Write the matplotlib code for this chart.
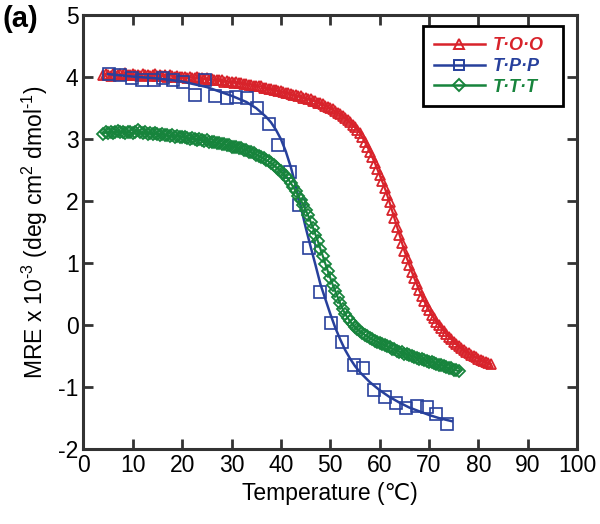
import matplotlib
matplotlib.use('Agg')
import matplotlib.pyplot as plt
import numpy as np

plt.rcParams['font.family'] = ['Liberation Sans', 'DejaVu Sans']
plt.rcParams['mathtext.fontset'] = 'custom'
plt.rcParams['mathtext.rm'] = 'Liberation Sans'
plt.rcParams['axes.unicode_minus'] = False

# T.O.O melting curve (read every 0.5 C)
too_temp = np.arange(4.0, 83.0, 0.5)
too_mre = [
    4.03, 4.05, 4.04, 4.02, 4.05, 4.04, 4.03, 4.05, 4.04, 4.06, 4.03, 4.04,
    4.05, 4.03, 4.04, 4.02, 4.05, 4.03, 4.04, 4.02, 4.03, 4.05, 4.02, 4.03,
    4.02, 4.04, 4.01, 4.03, 4.02, 4.00, 4.02, 4.01, 4.00, 4.01, 3.99, 4.01,
    3.99, 3.98, 4.00, 3.98, 3.98, 3.97, 3.98, 3.96, 3.97, 3.95, 3.96, 3.95,
    3.95, 3.93, 3.94, 3.92, 3.93, 3.91, 3.92, 3.90, 3.91, 3.89, 3.89, 3.88,
    3.88, 3.86, 3.86, 3.85, 3.85, 3.83, 3.82, 3.81, 3.81, 3.79, 3.79, 3.77,
    3.77, 3.76, 3.75, 3.74, 3.73, 3.71, 3.71, 3.69, 3.69, 3.67, 3.66, 3.65,
    3.64, 3.62, 3.61, 3.59, 3.58, 3.56, 3.54, 3.52, 3.50, 3.48, 3.45, 3.43,
    3.40, 3.37, 3.34, 3.31, 3.27, 3.23, 3.19, 3.15, 3.10, 3.03, 2.96, 2.88,
    2.80, 2.71, 2.62, 2.52, 2.42, 2.32, 2.22, 2.10, 1.98, 1.85, 1.72, 1.59,
    1.46, 1.33, 1.20, 1.08, 0.97, 0.86, 0.76, 0.66, 0.56, 0.47, 0.39, 0.31,
    0.24, 0.17, 0.11, 0.05, 0.00, -0.05, -0.10, -0.15, -0.19, -0.23, -0.27, -0.31,
    -0.34, -0.37, -0.40, -0.43, -0.45, -0.48, -0.50, -0.52, -0.54, -0.56, -0.58, -0.60,
    -0.61, -0.63,
]

# T.T.T melting curve (read every 0.5 C)
ttt_temp = np.arange(4.0, 76.5, 0.5)
ttt_mre = [
    3.09, 3.11, 3.10, 3.12, 3.10, 3.11, 3.13, 3.11, 3.12, 3.10, 3.12, 3.11,
    3.10, 3.12, 3.14, 3.11, 3.10, 3.11, 3.09, 3.10, 3.08, 3.10, 3.08, 3.07,
    3.08, 3.06, 3.07, 3.05, 3.06, 3.04, 3.05, 3.03, 3.03, 3.04, 3.02, 3.01,
    3.02, 3.00, 2.99, 3.00, 2.98, 2.97, 2.98, 2.96, 2.95, 2.96, 2.94, 2.93,
    2.92, 2.92, 2.90, 2.90, 2.88, 2.88, 2.87, 2.85, 2.85, 2.83, 2.82, 2.80,
    2.79, 2.77, 2.75, 2.73, 2.71, 2.69, 2.66, 2.64, 2.61, 2.58, 2.55, 2.52,
    2.48, 2.44, 2.40, 2.35, 2.29, 2.23, 2.16, 2.09, 2.02, 1.94, 1.86, 1.77,
    1.67, 1.57, 1.46, 1.35, 1.23, 1.11, 0.99, 0.87, 0.76, 0.65, 0.55, 0.45,
    0.35, 0.26, 0.18, 0.12, 0.06, 0.01, -0.03, -0.07, -0.10, -0.13, -0.16, -0.18,
    -0.21, -0.23, -0.25, -0.27, -0.29, -0.31, -0.32, -0.34, -0.36, -0.38, -0.39, -0.41,
    -0.43, -0.44, -0.46, -0.47, -0.49, -0.50, -0.51, -0.53, -0.54, -0.55, -0.56, -0.58,
    -0.59, -0.60, -0.61, -0.63, -0.64, -0.65, -0.66, -0.68, -0.69, -0.70, -0.72, -0.73,
    -0.74,
]

# T.P.P data points and fitted curve
tpp_temp = [5.1, 7.4, 9.8, 11.8, 14.2, 16.2, 18.2, 20.2, 22.6, 24.6, 26.7,
            29.0, 31.0, 33.1, 35.2, 37.5, 39.5, 41.8, 43.6, 45.6, 47.9, 50.1,
            52.4, 54.7, 56.7, 58.8, 61.1, 63.3, 65.4, 67.5, 69.5, 71.5, 73.6]
tpp_mre = [4.05, 4.03, 3.99, 3.95, 3.96, 3.98, 3.96, 3.92, 3.71, 3.96, 3.69,
           3.66, 3.68, 3.66, 3.50, 3.25, 2.90, 2.47, 1.94, 1.24, 0.54, 0.03,
           -0.28, -0.65, -0.70, -1.05, -1.16, -1.26, -1.33, -1.30, -1.32, -1.43, -1.60]
tpp_fit_temp = [5, 10, 15, 20, 25, 30, 33, 35, 37, 38, 39, 40, 41, 42, 43, 44,
                45, 46, 47, 48, 49, 50, 51, 52, 53, 54, 55, 56, 58, 60, 62, 64,
                66, 68, 70, 72, 74.6]
tpp_fit_mre = [4.05, 4.01, 3.98, 3.93, 3.84, 3.70, 3.60, 3.50, 3.36, 3.27, 3.15,
               3.00, 2.80, 2.55, 2.25, 1.92, 1.58, 1.27, 0.97, 0.66, 0.42, 0.18,
               -0.04, -0.23, -0.40, -0.54, -0.66, -0.76, -0.92, -1.05, -1.16,
               -1.25, -1.33, -1.39, -1.45, -1.50, -1.55]

labels = ['T·O·O', 'T·P·P', 'T·T·T']
red = '#d8232b'
blue = '#27409c'
green = '#17843c'

fig = plt.figure(figsize=(6.0, 5.24), dpi=100)
ax = fig.add_axes([0.139, 0.143, 0.823, 0.828])

ax.plot(too_temp, too_mre, color=red, lw=1.6, marker='^', ms=7.5,
        mfc='none', mec=red, mew=1.3)
ax.plot(tpp_fit_temp, tpp_fit_mre, color=blue, lw=1.8)
ax.plot(tpp_temp, tpp_mre, ls='none', marker='s', ms=8,
        mfc='none', mec=blue, mew=1.2)
ax.plot(ttt_temp, ttt_mre, color=green, lw=1.6, marker='D', ms=6.5,
        mfc='none', mec=green, mew=1.3)

# legend handles: line + marker
h_too, = ax.plot([], [], color=red, lw=1.8, marker='^', ms=7.5, mfc='none', mec=red, mew=1.4)
h_tpp, = ax.plot([], [], color=blue, lw=1.8, marker='s', ms=7, mfc='none', mec=blue, mew=1.4)
h_ttt, = ax.plot([], [], color=green, lw=1.8, marker='D', ms=6.5, mfc='none', mec=green, mew=1.4)
leg = ax.legend([h_too, h_tpp, h_ttt], labels, loc='upper left', mode='expand',
                bbox_to_anchor=(0.688, 0.0, 0.283, 0.974), fancybox=False,
                framealpha=1, edgecolor='black', handlelength=2.8,
                handletextpad=0.45, borderpad=0.6, labelspacing=0.2,
                borderaxespad=0,
                prop={'size': 13, 'style': 'italic', 'weight': 'bold'})
leg.get_frame().set_linewidth(2)
for txt, c in zip(leg.get_texts(), [red, blue, green]):
    txt.set_color(c)

ax.set_xlim(0, 100)
ax.set_ylim(-2, 5)
ax.set_xticks(range(0, 101, 10))
ax.set_yticks(range(-2, 6))
ax.tick_params(direction='in', length=7, width=2, labelsize=16.5,
               top=True, right=True, colors='#333333', labelcolor='black')
for s in ax.spines.values():
    s.set_linewidth(2.2)
    s.set_color('#333333')

ax.set_xlabel('Temperature (℃)', fontsize=16.5, labelpad=4)
ax.set_ylabel(r'MRE x 10$^{\text{-3}}$ (deg cm$^2$ dmol$^{\text{-1}}$)',
              fontsize=16.5, labelpad=6)
fig.text(0.005, 0.99, '(a)', fontsize=21, fontweight='bold', va='top', ha='left')

fig.savefig('out.png', dpi=100)
